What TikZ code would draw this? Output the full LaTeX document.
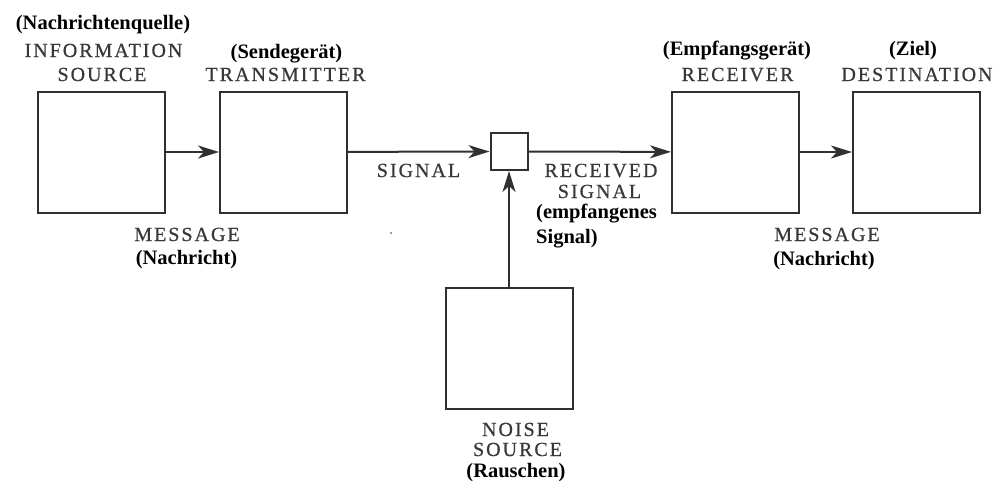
\documentclass[tikz,border=0pt]{standalone}
\usepackage{fontspec}
\setmainfont{Liberation Serif}
\newfontfamily\capsfont[LetterSpace=10,FakeBold=0.6]{Liberation Serif}
\usetikzlibrary{arrows.meta, positioning}
\definecolor{linegray}{HTML}{303030}
\definecolor{textgray}{HTML}{383838}

\begin{document}
\begin{tikzpicture}[x=1pt,y=-1pt,
		block/.style={draw=linegray,line width=2pt,minimum width=127pt,minimum height=121pt,inner sep=0pt},
		adder/.style={draw=linegray,line width=2pt,minimum width=37pt,minimum height=37pt,inner sep=0pt},
		flow/.style={draw=linegray,line width=2pt,-{Stealth[length=21pt,width=13pt,inset=6pt]}},
		eng/.style={anchor=base,inner sep=0pt,text=textgray,font=\capsfont\fontsize{20}{24}\selectfont},
		ger/.style={anchor=base,inner sep=0pt,font=\bfseries\fontsize{20.5}{24}\selectfont}]
		\useasboundingbox (0,0) rectangle (996,480);
		% blocks
		\node[block] (src)   at (101.5,152) {};
		\node[block] (tx)    at (283.5,152) {};
		\node[adder] (mix)   at (509,151.5) {};
		\node[block] (rx)    at (735.5,152) {};
		\node[block] (dst)   at (916.5,152) {};
		\node[block] (noise) at (509,348.5) {};
		% connectors
		\path[flow] (src) -- (tx);
		\path[flow] (tx) -- (mix);
		\path[flow] (mix) -- (rx);
		\path[flow] (rx) -- (dst);
		\path[flow] (noise) -- (mix);
		% labels
		\node[ger] (src_de)  at (103,29)  {(Nachrichtenquelle)};
		\node[eng] (src_l1)  at (103.5,57) {INFORMATION};
		\node[eng] (src_l2)  at (102,81)  {SOURCE};
		\node[ger] (tx_de)   at (286.5,58) {(Sendeger\"at)};
		\node[eng] (tx_l1)   at (285.5,81) {TRANSMITTER};
		\node[eng] (msg_l)   at (187,241) {MESSAGE};
		\node[ger] (msg_de)  at (186.5,264) {(Nachricht)};
		\node[eng] (sig_l)   at (418.5,177) {SIGNAL};
		\node[eng] (rsig_l1) at (601,177) {RECEIVED};
		\node[eng] (rsig_l2) at (599.5,198) {SIGNAL};
		\node[ger,anchor=base west] (rsig_de1) at (536,218) {(empfangenes};
		\node[ger,anchor=base west] (rsig_de2) at (536,243) {Signal)};
		\node[ger] (rx_de)   at (737,55)  {(Empfangsger\"at)};
		\node[eng] (rx_l1)   at (737.5,81) {RECEIVER};
		\node[ger] (dst_de)  at (913,55)  {(Ziel)};
		\node[eng] (dst_l1)  at (917,81)  {DESTINATION};
		\node[eng] (msg_r)   at (827,241) {MESSAGE};
		\node[ger] (msg_rde) at (824,265) {(Nachricht)};
		\node[eng] (noise_l1) at (515.5,436) {NOISE};
		\node[eng] (noise_l2) at (517.5,456) {SOURCE};
		\node[ger] (noise_de) at (516,477) {(Rauschen)};
		\fill[blue!60] (391,233) circle (1.2pt);
\end{tikzpicture}
\end{document}
